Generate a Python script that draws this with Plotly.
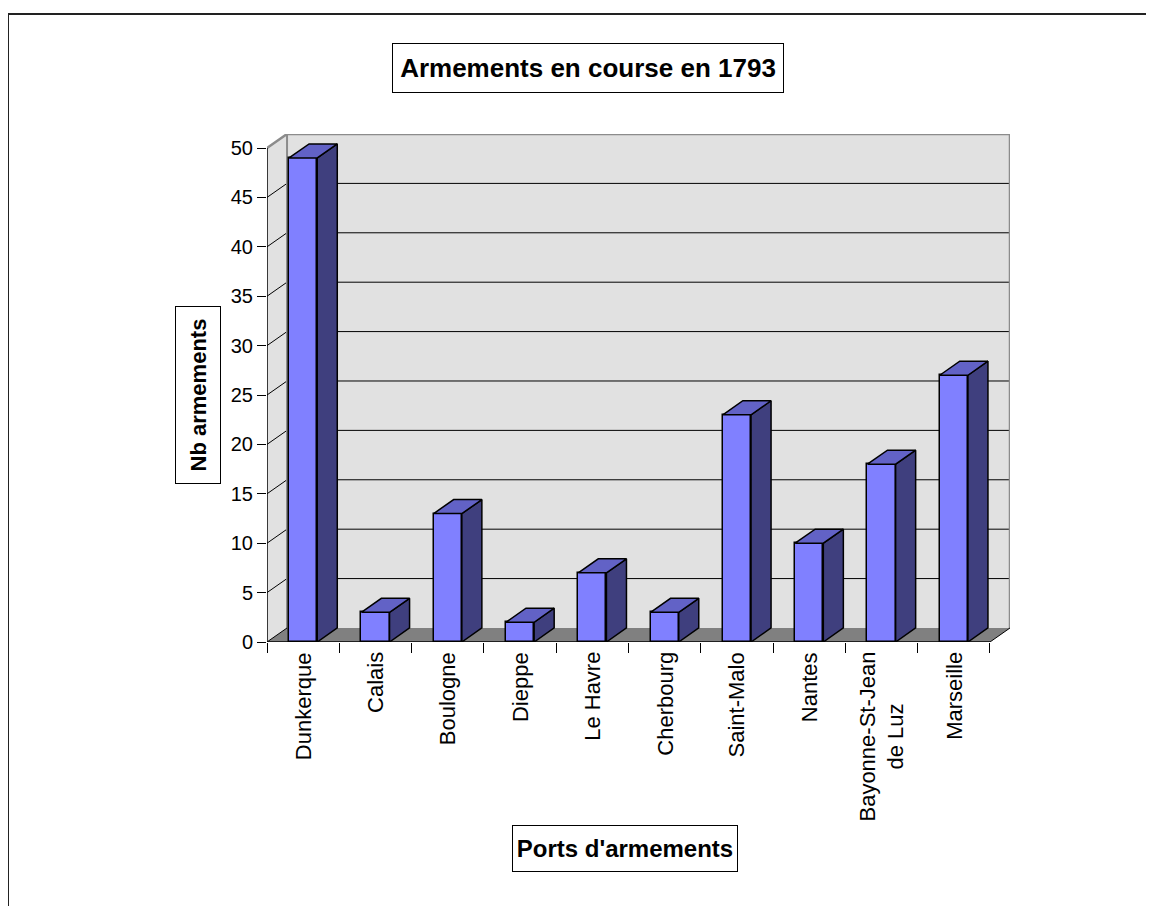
import plotly.graph_objects as go

# Armements en course en 1793 - nombre d'armements par port
ports = ["Dunkerque", "Calais", "Boulogne", "Dieppe", "Le Havre", "Cherbourg",
         "Saint-Malo", "Nantes", "Bayonne-St-Jean<br>de Luz", "Marseille"]
armements = [49, 3, 13, 2, 7, 3, 23, 10, 18, 27]
y_ticks = [0, 5, 10, 15, 20, 25, 30, 35, 40, 45, 50]

FONT = "Liberation Sans, Arial, sans-serif"
FRONT = "#8080ff"
TOP = "#6262c6"
SIDE = "#3f3f7e"
WALL = "#e1e1e1"
FLOOR = "#808080"

# fake 3D depth, in data units
dx = 0.277
dy = 1.42
bar_w = 0.39
n = len(ports)
xs = list(range(n))
ymax = max(y_ticks)

# page body has an 8px margin, plot area wanted at screen (267,134)-(1010,642)
PW, PH = 743, 508
L, T = 267 - 8, 134 - 8


def px(sx):
    return (sx - 267) / PW


def py(sy):
    return (642 - sy) / PH


fig = go.Figure()

# front faces
fig.add_trace(go.Bar(
    x=xs, y=armements, width=bar_w,
    marker=dict(color=FRONT, line=dict(color="black", width=1.5)),
    showlegend=False, hoverinfo="skip"
))

# side and top faces
for x, v in zip(xs, armements):
    r = x + bar_w / 2
    l = x - bar_w / 2
    fig.add_trace(go.Scatter(
        x=[r, r + dx, r + dx, r, r], y=[0, dy, v + dy, v, 0],
        mode="lines", fill="toself", fillcolor=SIDE,
        line=dict(color="black", width=1.5), showlegend=False, hoverinfo="skip"
    ))
    fig.add_trace(go.Scatter(
        x=[l, r, r + dx, l + dx, l], y=[v, v, v + dy, v + dy, v],
        mode="lines", fill="toself", fillcolor=TOP,
        line=dict(color="black", width=1.5), showlegend=False, hoverinfo="skip"
    ))

x0 = -0.5
x1 = n - 0.5
shapes = []
# back wall
shapes.append(dict(type="rect", xref="x", yref="y", x0=x0 + dx, x1=x1 + dx, y0=dy, y1=ymax + dy,
                   fillcolor=WALL, line=dict(width=0), layer="below"))
# left wall
shapes.append(dict(type="path", xref="x", yref="y",
                   path=f"M {x0},0 L {x0 + dx},{dy} L {x0 + dx},{ymax + dy} L {x0},{ymax} Z",
                   fillcolor=WALL, line=dict(width=0), layer="below"))
# gridlines
for t in y_ticks[1:-1]:
    shapes.append(dict(type="line", xref="x", yref="y", x0=x0 + dx, x1=x1 + dx, y0=t + dy, y1=t + dy,
                       line=dict(color="black", width=1), layer="below"))
    shapes.append(dict(type="line", xref="x", yref="y", x0=x0, x1=x0 + dx, y0=t, y1=t + dy,
                       line=dict(color="black", width=1), layer="below"))
# wall borders
shapes.append(dict(type="path", xref="x", yref="y",
                   path=f"M {x0},{ymax} L {x0 + dx},{ymax + dy} L {x1 + dx},{ymax + dy} L {x1 + dx},{dy}",
                   line=dict(color="#8c8c8c", width=2.5), layer="below"))
shapes.append(dict(type="line", xref="x", yref="y", x0=x0 + dx, x1=x0 + dx, y0=dy, y1=ymax + dy,
                   line=dict(color="#8c8c8c", width=2), layer="below"))
# floor
shapes.append(dict(type="path", xref="x", yref="y",
                   path=f"M {x0},0 L {x1},0 L {x1 + dx},{dy} L {x0 + dx},{dy} Z",
                   fillcolor=FLOOR, line=dict(width=0), layer="below"))
shapes.append(dict(type="line", xref="x", yref="y", x0=x1, x1=x1 + dx, y0=0, y1=dy,
                   line=dict(color="black", width=1), layer="below"))
shapes.append(dict(type="line", xref="x", yref="y", x0=x0, x1=x0 + dx, y0=0, y1=dy,
                   line=dict(color="black", width=1), layer="below"))
# front axis lines
shapes.append(dict(type="line", xref="x", yref="y", x0=x0, x1=x0, y0=0, y1=ymax,
                   line=dict(color="black", width=1.5), layer="below"))
shapes.append(dict(type="line", xref="x", yref="y", x0=x0, x1=x1, y0=0, y1=0,
                   line=dict(color="black", width=1.5), layer="below"))
# outer chart border
shapes.append(dict(type="rect", xref="paper", yref="paper", x0=px(8), x1=px(1180), y0=py(930), y1=py(14),
                   line=dict(color="#222222", width=2), fillcolor="rgba(0,0,0,0)", layer="below"))

annotations = [
    dict(text="<b>Armements en course en 1793</b>", xref="paper", yref="paper",
         x=px(588), y=py(68), xanchor="center", yanchor="middle",
         showarrow=False, font=dict(size=26), bgcolor="white",
         bordercolor="black", borderwidth=1, borderpad=0, width=390, height=48),
    dict(text="<b>Nb armements</b>", xref="paper", yref="paper",
         x=px(198), y=py(395), xanchor="center", yanchor="middle",
         showarrow=False, font=dict(size=22), textangle=-90, bgcolor="white",
         bordercolor="black", borderwidth=1, borderpad=0, width=176, height=44),
    dict(text="<b>Ports d'armements</b>", xref="paper", yref="paper",
         x=px(625), y=py(848.5), xanchor="center", yanchor="middle",
         showarrow=False, font=dict(size=24), bgcolor="white",
         bordercolor="black", borderwidth=1, borderpad=0, width=224, height=45),
]
# category labels, rotated and centred like the original
for x, name in zip(xs, ports):
    annotations.append(dict(text=name, xref="x", yref="paper", x=x, y=py(651),
                            xanchor="center", yanchor="top", textangle=-90, align="center",
                            showarrow=False, font=dict(size=22), borderpad=0))

fig.update_layout(
    width=1154, height=906,
    margin=dict(l=L, r=1154 - L - PW, t=T, b=906 - T - PH, autoexpand=False),
    paper_bgcolor="white", plot_bgcolor="white",
    font=dict(family=FONT, color="black"),
    bargap=0,
    shapes=shapes,
    annotations=annotations,
    xaxis=dict(
        range=[x0, x1 + dx], tickmode="array", tickvals=[i - 0.5 for i in range(n + 1)],
        showticklabels=False, ticks="outside", ticklen=10, tickcolor="black", tickwidth=1,
        showgrid=False, zeroline=False, showline=False, fixedrange=True
    ),
    yaxis=dict(
        range=[0, ymax + dy], tickmode="array", tickvals=y_ticks,
        ticks="outside", ticklen=9, tickcolor="black", tickwidth=1,
        tickfont=dict(size=20), showgrid=False, zeroline=False, showline=False,
        fixedrange=True
    ),
)

fig.write_html("out.html")
